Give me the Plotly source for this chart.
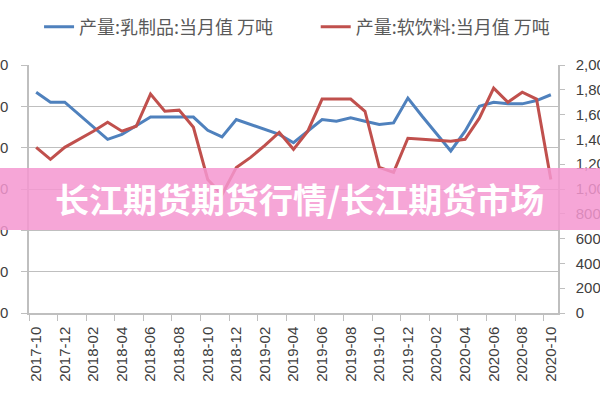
import plotly.graph_objects as go

months = [
    "2017-10", "2017-11", "2017-12", "2018-01", "2018-02", "2018-03", "2018-04",
    "2018-05", "2018-06", "2018-07", "2018-08", "2018-09", "2018-10", "2018-11",
    "2018-12", "2019-01", "2019-02", "2019-03", "2019-04", "2019-05", "2019-06",
    "2019-07", "2019-08", "2019-09", "2019-10", "2019-11", "2019-12", "2020-01",
    "2020-02", "2020-03", "2020-04", "2020-05", "2020-06", "2020-07", "2020-08",
    "2020-09", "2020-10",
]
dairy = [267, 255, 255, 240, 225, 210, 216, 226, 237, 237, 237, 237, 221, 213,
         234, 228, 222, 216, 206, 220, 234, 232, 236, 232, 228, 230, 260, 238,
         217, 196, 220, 250, 255, 253, 253, 257, 264]
soft = [1336, 1239, 1336, 1401, 1466, 1538, 1466, 1506, 1765, 1627, 1636, 1498,
        1077, 955, 1174, 1255, 1352, 1457, 1320, 1466, 1725, 1725, 1725, 1627,
        1174, 1134, 1409, 1401, 1393, 1385, 1401, 1571, 1814, 1700, 1781, 1725,
        1077]
name_dairy = "产量:乳制品:当月值 万吨"
name_soft = "产量:软饮料:当月值 万吨"
left_ticks = [0, 50, 100, 150, 200, 250, 300]
right_ticks = [0, 200, 400, 600, 800, 1000, 1200, 1400, 1600, 1800, 2000]
banner_text = "长江期货期货行情/长江期货市场"

fig = go.Figure()
fig.add_trace(go.Scatter(x=months, y=dairy, name=name_dairy, mode="lines",
                         line=dict(color="#4F81BD", width=3), yaxis="y",
                         legend="legend"))
fig.add_trace(go.Scatter(x=months, y=soft, name=name_soft, mode="lines",
                         line=dict(color="#C0504D", width=3), yaxis="y2",
                         legend="legend2"))

axis_line = "#bfbfbf"
tick_font = dict(family="Liberation Sans, Arial, sans-serif", size=15, color="#404040")
legend_font = dict(family="Noto Sans CJK SC, sans-serif", size=18, color="#595959")

fig.update_layout(
    width=600, height=400,
    margin=dict(l=29, r=42, t=65, b=87, autoexpand=False),
    paper_bgcolor="white", plot_bgcolor="white",
    showlegend=True,
    legend=dict(orientation="h", x=0.019, xanchor="left", y=1.153, yanchor="middle",
                font=legend_font, bgcolor="rgba(0,0,0,0)"),
    legend2=dict(orientation="h", x=0.542, xanchor="left", y=1.153, yanchor="middle",
                 font=legend_font, bgcolor="rgba(0,0,0,0)"),
    xaxis=dict(type="category", range=[-0.5, 36.5], dtick=2, tickson="boundaries",
               ticks="outside", ticklen=6, tickcolor=axis_line, tickangle=-90,
               showline=True, linecolor=axis_line, linewidth=1.5, showgrid=False,
               automargin=False, ticklabelstandoff=6, tickfont=tick_font),
    yaxis=dict(range=[0, 300], tickvals=left_ticks, ticks="outside", ticklen=6,
               tickcolor=axis_line, showline=True, linecolor=axis_line, linewidth=1.5,
               showgrid=True, gridcolor="#bfbfbf", gridwidth=1, zeroline=False,
               automargin=False, ticklabelstandoff=10, tickfont=tick_font),
    yaxis2=dict(range=[0, 2000], tickvals=right_ticks, tickformat=",d", overlaying="y",
                side="right", ticks="outside", ticklen=5, tickcolor=axis_line,
                showline=True, linecolor=axis_line, linewidth=1.5, showgrid=False,
                zeroline=False, automargin=False, ticklabelstandoff=8,
                tickfont=tick_font),
    shapes=[dict(type="rect", xref="paper", yref="paper", x0=-0.06, x1=1.1,
                 y0=0.335, y1=0.585, fillcolor="rgba(245,150,208,0.85)",
                 line=dict(width=0), layer="above")],
    annotations=[dict(text="<b>" + banner_text + "</b>", xref="paper", yref="paper",
                      x=0.512, y=0.46, xanchor="center", yanchor="middle",
                      showarrow=False,
                      font=dict(family="Noto Sans CJK SC, sans-serif", size=34,
                                color="white"))],
)

fig.write_html("out.html")
